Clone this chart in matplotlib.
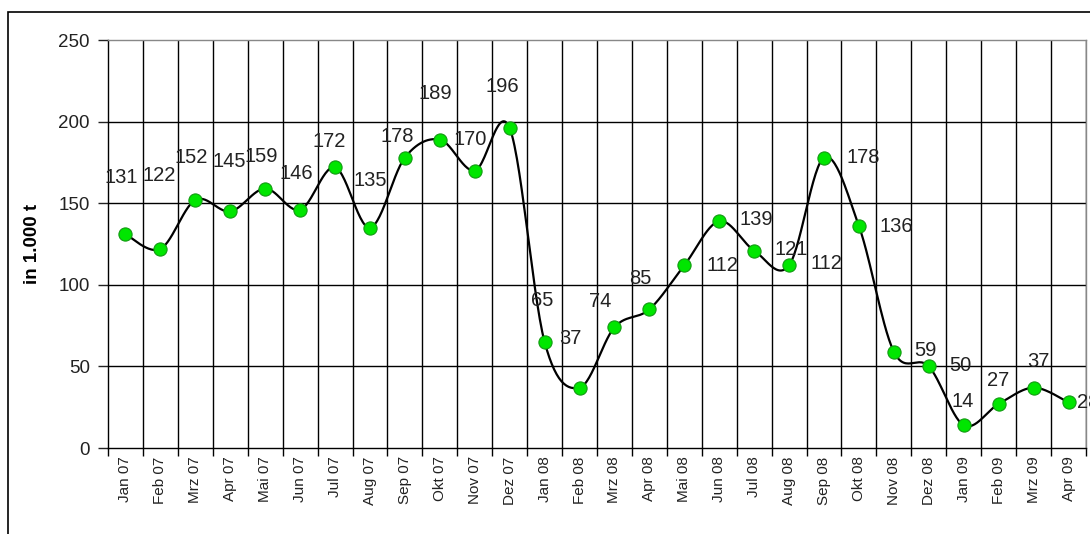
import numpy as np
import matplotlib
matplotlib.use("Agg")
import matplotlib.pyplot as plt
from matplotlib.patches import Rectangle

plt.rcParams['font.family'] = ['Liberation Sans', 'DejaVu Sans']

months = ["Jan 07", "Feb 07", "Mrz 07", "Apr 07", "Mai 07", "Jun 07", "Jul 07",
          "Aug 07", "Sep 07", "Okt 07", "Nov 07", "Dez 07",
          "Jan 08", "Feb 08", "Mrz 08", "Apr 08", "Mai 08", "Jun 08", "Jul 08",
          "Aug 08", "Sep 08", "Okt 08", "Nov 08", "Dez 08",
          "Jan 09", "Feb 09", "Mrz 09", "Apr 09"]
values = [131, 122, 152, 145, 159, 146, 172, 135, 178, 189, 170, 196,
          65, 37, 74, 85, 112, 139, 121, 112, 178, 136, 59, 50,
          14, 27, 37, 28]

# where each data label sits relative to its point (pixels, y up)
label_dx = [-4, -1, -4, -1, -4, -4, -6, 0, -8, -5, -5, -7,
            -2, -9, -14, -9, 38, 37, 37, 37, 39, 37, 32, 32,
            -1, -1, 5, 20]
label_dy = [57, 73, 42, 50, 32, 36, 26, 47, 21, 46, 31, 42,
            41, 49, 26, 31, 0, 2, 1, 2, 0, 0, 1, 1,
            24, 23, 26, 0]
label_text = [str(v) for v in values]


def smooth(x, y, n=30):
    # Excel-style smoothed line (Catmull-Rom Bezier)
    x = np.asarray(x, float)
    y = np.asarray(y, float)
    px = np.concatenate([[x[0]], x, [x[-1]]])
    py = np.concatenate([[y[0]], y, [y[-1]]])
    t = np.linspace(0, 1, n)
    xs, ys = [], []
    for i in range(1, len(px) - 2):
        p0 = np.array([px[i], py[i]])
        p3 = np.array([px[i + 1], py[i + 1]])
        c1 = p0 + (p3 - np.array([px[i - 1], py[i - 1]])) / 6
        c2 = p3 - (np.array([px[i + 2], py[i + 2]]) - p0) / 6
        b = ((1 - t) ** 3)[:, None] * p0 + (3 * (1 - t) ** 2 * t)[:, None] * c1 \
            + (3 * (1 - t) * t ** 2)[:, None] * c2 + (t ** 3)[:, None] * p3
        xs.extend(b[:, 0])
        ys.extend(b[:, 1])
    return xs, ys


fig = plt.figure(figsize=(10.9, 5.34), dpi=100)
ax = fig.add_axes([0.0991, 0.161, 0.8972, 0.764])

x = np.arange(len(values))
sx, sy = smooth(x, values)
ax.plot(sx, sy, color="black", lw=1.6, zorder=3)
ax.plot(x, values, "o", ms=9.5, mfc="#00e600", mec="#139a13", mew=0.8, zorder=4)

for i in range(len(values)):
    ax.annotate(label_text[i], (x[i], values[i]), xytext=(label_dx[i], label_dy[i]),
                textcoords="offset pixels", ha="center", va="center",
                fontsize=14.5, color="#222222", zorder=5, annotation_clip=False)

ax.set_xlim(-0.5, len(values) - 0.5)
ax.set_ylim(0, 250)
ax.set_yticks([0, 50, 100, 150, 200, 250])
ax.tick_params(axis="y", labelsize=13.5, length=7, width=1, pad=6, colors="#222222")
ax.set_xticks(x)
ax.set_xticklabels(months, rotation=90, fontsize=11, color="#222222")
ax.tick_params(axis="x", length=0, pad=6)
ax.set_xticks(np.arange(-0.5, len(values)), minor=True)
ax.tick_params(axis="x", which="minor", length=6, width=1)

for yv in [50, 100, 150, 200]:
    ax.axhline(yv, color="black", lw=1.0, zorder=1)
for xv in np.arange(0.5, len(values)):
    ax.axvline(xv, color="black", lw=1.0, zorder=1)

ax.spines["left"].set_color("black")
ax.spines["bottom"].set_color("black")
ax.spines["top"].set_color("#888888")
ax.spines["right"].set_color("#888888")
for s in ax.spines.values():
    s.set_linewidth(1.0)

ax.set_ylabel("in 1.000 t", fontsize=13.5, fontweight="bold")
ax.yaxis.set_label_coords(-0.069, 0.5)

fig.add_artist(Rectangle((0.0073, -0.2), 1.2, 0.9775 + 0.2, transform=fig.transFigure,
                         fill=False, lw=1.2, ec="black"))

fig.savefig("out.png", dpi=100)
